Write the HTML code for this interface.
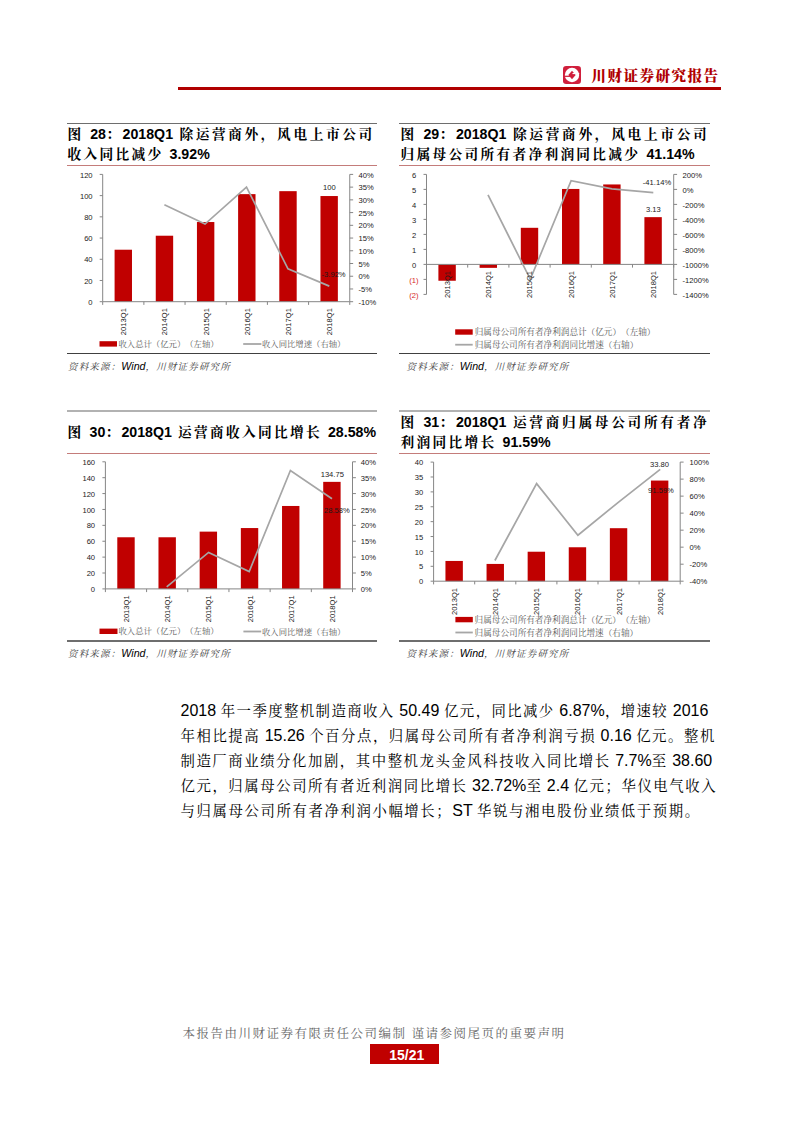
<!DOCTYPE html>
<html lang="zh-CN">
<head>
<meta charset="utf-8">
<title>川财证券研究报告</title>
<style>
html,body{margin:0;padding:0;background:#fff}
*{text-spacing-trim:space-all}
svg text{text-spacing-trim:space-all}
body{width:793px;height:1122px;position:relative;overflow:hidden;font-family:"Liberation Sans", "Noto Serif CJK SC", serif;color:#000}
.abs{position:absolute}
.hl{position:absolute;height:0}
.ttl{position:absolute;font-family:"Liberation Sans", "Noto Serif CJK SC", serif;font-weight:700;font-size:13.7px;letter-spacing:2.3px;line-height:20px;white-space:nowrap;color:#000}
.ttl .j{text-align:justify;text-align-last:justify}
.l{letter-spacing:0;line-height:0;font-family:"Liberation Sans", sans-serif}
.ttl .l{font-size:14.2px}
.src{position:absolute;font-family:"Liberation Sans", "Noto Serif CJK SC", serif;font-style:italic;font-size:9.5px;letter-spacing:1.17px;line-height:14px;color:#3c3c3c;white-space:nowrap}
.src .w{color:#000;font-family:"Liberation Sans", sans-serif;font-size:10.67px;letter-spacing:0}
.body{position:absolute;left:180.5px;top:698.5px;width:537.2px;font-family:"Liberation Sans", "Noto Serif CJK SC", serif;font-size:14.4px;letter-spacing:1.6px;line-height:25.08px;color:#000}
.body .l{font-size:16px}
.body div{text-align:justify;text-align-last:justify;white-space:nowrap;height:25.08px}
.body div.last{text-align-last:left}
.ft{position:absolute;left:182.5px;top:1025px;font-family:"Liberation Sans", "Noto Serif CJK SC", serif;font-size:12.5px;letter-spacing:1.5px;line-height:18px;color:#666;white-space:pre}
.pg{position:absolute;left:370px;top:1044px;width:68.5px;height:20.3px;background:#c00000;color:#fff;font:700 14px/23.2px "Liberation Sans", sans-serif;text-align:center;padding-left:5px;box-sizing:border-box;overflow:hidden}
.hd{position:absolute;left:591.6px;top:66.2px;font-family:"Liberation Sans", "Noto Serif CJK SC", serif;font-weight:900;font-size:14.6px;line-height:20px;letter-spacing:1.4px;color:#b00000;white-space:nowrap}
</style>
</head>
<body>
<!-- header -->
<div class="abs" style="left:178px;top:86.9px;width:543px;height:2.8px;background:#b00000"></div>
<svg class="abs" style="left:563px;top:66px" width="18" height="18" viewBox="0 0 18 18">
<rect x="0" y="0" width="18" height="18" rx="3.2" fill="#d01f3c"/>
<circle cx="9" cy="9" r="7.2" fill="#fff"/>
<path d="M9 4.7L12.7 8.9L9 13.2L5.3 8.9Z" fill="#d01f3c"/>
<path d="M9.5 7.55H16.2" stroke="#fff" stroke-width="1.15"/>
<path d="M1.6 10.3H9.8" stroke="#d01f3c" stroke-width="1.25"/>
</svg>
<div class="hd">川财证券研究报告</div>

<!-- panel rules -->
<div class="abs" style="left:67px;top:122.8px;width:310px;height:1px;background:#6e6e6e"></div>
<div class="abs" style="left:399.3px;top:122.8px;width:310.7px;height:1px;background:#6e6e6e"></div>
<div class="abs" style="left:67px;top:164.8px;width:310px;height:1px;background:#c47c7a"></div>
<div class="abs" style="left:399.3px;top:164.8px;width:310.7px;height:1px;background:#c47c7a"></div>
<div class="abs" style="left:67px;top:352.7px;width:310px;height:1.3px;background:#404040"></div>
<div class="abs" style="left:399.3px;top:352.7px;width:310.7px;height:1.3px;background:#404040"></div>

<div class="abs" style="left:67px;top:409.9px;width:310px;height:2px;background:#b2b2b2"></div>
<div class="abs" style="left:399.3px;top:409.9px;width:310.7px;height:2px;background:#b2b2b2"></div>
<div class="abs" style="left:67px;top:452.9px;width:310px;height:1px;background:#c47c7a"></div>
<div class="abs" style="left:399.3px;top:452.9px;width:310.7px;height:1px;background:#c47c7a"></div>
<div class="abs" style="left:67px;top:640.1px;width:310px;height:1.6px;background:#6e6e6e"></div>
<div class="abs" style="left:399.3px;top:640.1px;width:310.7px;height:1.6px;background:#6e6e6e"></div>

<!-- titles -->
<div class="ttl" style="left:67.5px;top:125.3px;width:307px"><div class="j">图 <span class="l">28</span>：<span class="l">2018Q1</span> 除运营商外，风电上市公司</div><div>收入同比减少 <span class="l">3.92%</span></div></div>
<div class="ttl" style="left:400.5px;top:125.3px;width:308.5px"><div class="j">图 <span class="l">29</span>：<span class="l">2018Q1</span> 除运营商外，风电上市公司</div><div>归属母公司所有者净利润同比减少 <span class="l">41.14%</span></div></div>
<div class="ttl" style="left:67.5px;top:423.2px;width:307px"><div class="j">图 <span class="l">30</span>：<span class="l">2018Q1</span> 运营商收入同比增长 <span class="l">28.58%</span></div></div>
<div class="ttl" style="left:400.5px;top:412.8px;width:308.5px"><div class="j">图 <span class="l">31</span>：<span class="l">2018Q1</span> 运营商归属母公司所有者净</div><div>利润同比增长 <span class="l">91.59%</span></div></div>

<!-- charts -->
<svg class="abs" style="left:0;top:0" width="793" height="1122" viewBox="0 0 793 1122">
<rect x="114.59" y="249.72" width="17.4" height="51.98" fill="#c00000"/>
<rect x="155.76" y="235.72" width="17.4" height="65.98" fill="#c00000"/>
<rect x="196.94" y="222.03" width="17.4" height="79.67" fill="#c00000"/>
<rect x="238.11" y="194.13" width="17.4" height="107.57" fill="#c00000"/>
<rect x="279.29" y="191.16" width="17.4" height="110.54" fill="#c00000"/>
<rect x="320.46" y="196.04" width="17.4" height="105.66" fill="#c00000"/>
<g stroke="#868686" stroke-width="1" fill="none">
<path d="M102.7 174.4V301.7"/>
<path d="M349.75 174.4V301.7"/>
<path d="M102.7 301.7H349.75"/>
<path d="M99.7 301.7H102.7M99.7 280.48H102.7M99.7 259.27H102.7M99.7 238.05H102.7M99.7 216.83H102.7M99.7 195.62H102.7M99.7 174.4H102.7M349.75 301.7H353.15M349.75 288.97H353.15M349.75 276.24H353.15M349.75 263.51H353.15M349.75 250.78H353.15M349.75 238.05H353.15M349.75 225.32H353.15M349.75 212.59H353.15M349.75 199.86H353.15M349.75 187.13H353.15M349.75 174.4H353.15M102.7 301.7V304.9M143.88 301.7V304.9M185.05 301.7V304.9M226.23 301.7V304.9M267.4 301.7V304.9M308.58 301.7V304.9M349.75 301.7V304.9"/>
</g>
<polyline points="164.4,204.7 205,224.1 246.5,187.1 288,268.8 329.3,286.1" fill="none" stroke="#a6a6a6" stroke-width="1.7" stroke-linejoin="miter"/>
<g font-family='"Liberation Sans", sans-serif' font-size="7.6" fill="#1a1a1a">
<text x="92.6" y="304.82" text-anchor="end">0</text>
<text x="92.6" y="283.6" text-anchor="end">20</text>
<text x="92.6" y="262.39" text-anchor="end">40</text>
<text x="92.6" y="241.17" text-anchor="end">60</text>
<text x="92.6" y="219.95" text-anchor="end">80</text>
<text x="92.6" y="198.74" text-anchor="end">100</text>
<text x="92.6" y="177.52" text-anchor="end">120</text>
<text x="358.5" y="304.82">-10%</text>
<text x="358.5" y="292.09">-5%</text>
<text x="358.5" y="279.36">0%</text>
<text x="358.5" y="266.63">5%</text>
<text x="358.5" y="253.9">10%</text>
<text x="358.5" y="241.17">15%</text>
<text x="358.5" y="228.44">20%</text>
<text x="358.5" y="215.71">25%</text>
<text x="358.5" y="202.98">30%</text>
<text x="358.5" y="190.25">35%</text>
<text x="358.5" y="177.52">40%</text>
<text transform="translate(126.26 308.1) rotate(-90)" text-anchor="end">2013Q1</text>
<text transform="translate(167.43 308.1) rotate(-90)" text-anchor="end">2014Q1</text>
<text transform="translate(208.61 308.1) rotate(-90)" text-anchor="end">2015Q1</text>
<text transform="translate(249.78 308.1) rotate(-90)" text-anchor="end">2016Q1</text>
<text transform="translate(290.96 308.1) rotate(-90)" text-anchor="end">2017Q1</text>
<text transform="translate(332.13 308.1) rotate(-90)" text-anchor="end">2018Q1</text>
<text x="329.3" y="190.17" text-anchor="middle">100</text>
<text x="333.6" y="277.07" text-anchor="middle">-3.92%</text>
</g>
<g font-family='"Liberation Serif", "Noto Serif CJK SC", serif' font-size="8.35" fill="#595959">
<rect x="99.5" y="341.2" width="17.5" height="5.4" fill="#c00000"/>
<text x="118.5" y="346.9">收入总计（亿元）（左轴）</text>
<path d="M243.2 344H261.4" stroke="#a6a6a6" stroke-width="1.8"/>
<text x="262" y="347">收入同比增速（右轴）</text>
</g>
<rect x="438.4" y="264.4" width="17.4" height="16.35" fill="#c00000"/>
<rect x="479.6" y="264.4" width="17.4" height="3.45" fill="#c00000"/>
<rect x="520.8" y="227.8" width="17.4" height="36.6" fill="#c00000"/>
<rect x="562" y="188.95" width="17.4" height="75.45" fill="#c00000"/>
<rect x="603.2" y="184.45" width="17.4" height="79.95" fill="#c00000"/>
<rect x="644.4" y="217.15" width="17.4" height="47.25" fill="#c00000"/>
<g stroke="#868686" stroke-width="1" fill="none">
<path d="M426.5 174.4V294.4"/>
<path d="M673.7 174.4V294.4"/>
<path d="M426.5 264.4H673.7"/>
<path d="M423.5 294.4H426.5M423.5 279.4H426.5M423.5 264.4H426.5M423.5 249.4H426.5M423.5 234.4H426.5M423.5 219.4H426.5M423.5 204.4H426.5M423.5 189.4H426.5M423.5 174.4H426.5M673.7 294.4H677.1M673.7 279.4H677.1M673.7 264.4H677.1M673.7 249.4H677.1M673.7 234.4H677.1M673.7 219.4H677.1M673.7 204.4H677.1M673.7 189.4H677.1M673.7 174.4H677.1M426.5 264.4V267.6M467.7 264.4V267.6M508.9 264.4V267.6M550.1 264.4V267.6M591.3 264.4V267.6M632.5 264.4V267.6M673.7 264.4V267.6"/>
</g>
<polyline points="488,194.8 530.3,279.3 571.1,180.6 612,188.9 653.3,192.7" fill="none" stroke="#a6a6a6" stroke-width="1.7" stroke-linejoin="miter"/>
<g font-family='"Liberation Sans", sans-serif' font-size="7.6" fill="#1a1a1a">
<text x="418.5" y="297.52" text-anchor="end" fill="#d62a2a">(2)</text>
<text x="418.5" y="282.52" text-anchor="end" fill="#d62a2a">(1)</text>
<text x="416.2" y="267.52" text-anchor="end">0</text>
<text x="416.2" y="252.52" text-anchor="end">1</text>
<text x="416.2" y="237.52" text-anchor="end">2</text>
<text x="416.2" y="222.52" text-anchor="end">3</text>
<text x="416.2" y="207.52" text-anchor="end">4</text>
<text x="416.2" y="192.52" text-anchor="end">5</text>
<text x="416.2" y="177.52" text-anchor="end">6</text>
<text x="682.5" y="297.52">-1400%</text>
<text x="682.5" y="282.52">-1200%</text>
<text x="682.5" y="267.52">-1000%</text>
<text x="682.5" y="252.52">-800%</text>
<text x="682.5" y="237.52">-600%</text>
<text x="682.5" y="222.52">-400%</text>
<text x="682.5" y="207.52">-200%</text>
<text x="682.5" y="192.52">0%</text>
<text x="682.5" y="177.52">200%</text>
<text transform="translate(450.07 270.9) rotate(-90)" text-anchor="end">2013Q1</text>
<text transform="translate(491.27 270.9) rotate(-90)" text-anchor="end">2014Q1</text>
<text transform="translate(532.47 270.9) rotate(-90)" text-anchor="end">2015Q1</text>
<text transform="translate(573.67 270.9) rotate(-90)" text-anchor="end">2016Q1</text>
<text transform="translate(614.87 270.9) rotate(-90)" text-anchor="end">2017Q1</text>
<text transform="translate(656.07 270.9) rotate(-90)" text-anchor="end">2018Q1</text>
<text x="657" y="184.87" text-anchor="middle">-41.14%</text>
<text x="653.3" y="212.07" text-anchor="middle">3.13</text>
</g>
<g font-family='"Liberation Serif", "Noto Serif CJK SC", serif' font-size="8.62" fill="#595959">
<rect x="455.2" y="329.3" width="17.5" height="5.4" fill="#c00000"/>
<text x="474.7" y="335">归属母公司所有者净利润总计（亿元）（左轴）</text>
<path d="M455.2 344.7H472.7" stroke="#a6a6a6" stroke-width="1.8"/>
<text x="474.7" y="347.7">归属母公司所有者净利润同比增速（右轴）</text>
</g>
<rect x="117.29" y="537.27" width="17.4" height="51.63" fill="#c00000"/>
<rect x="158.48" y="537.27" width="17.4" height="51.63" fill="#c00000"/>
<rect x="199.66" y="531.63" width="17.4" height="57.27" fill="#c00000"/>
<rect x="240.84" y="528.05" width="17.4" height="60.85" fill="#c00000"/>
<rect x="282.03" y="505.97" width="17.4" height="82.93" fill="#c00000"/>
<rect x="323.21" y="481.86" width="17.4" height="107.04" fill="#c00000"/>
<g stroke="#868686" stroke-width="1" fill="none">
<path d="M105.4 461.8V588.9"/>
<path d="M352.5 461.8V588.9"/>
<path d="M105.4 588.9H352.5"/>
<path d="M102.4 588.9H105.4M102.4 573.01H105.4M102.4 557.12H105.4M102.4 541.24H105.4M102.4 525.35H105.4M102.4 509.46H105.4M102.4 493.57H105.4M102.4 477.69H105.4M102.4 461.8H105.4M352.5 588.9H355.9M352.5 573.01H355.9M352.5 557.12H355.9M352.5 541.24H355.9M352.5 525.35H355.9M352.5 509.46H355.9M352.5 493.57H355.9M352.5 477.69H355.9M352.5 461.8H355.9M105.4 588.9V592.1M146.58 588.9V592.1M187.77 588.9V592.1M228.95 588.9V592.1M270.13 588.9V592.1M311.32 588.9V592.1M352.5 588.9V592.1"/>
</g>
<polyline points="166.7,586.8 208.6,552.4 249.2,571.5 290.4,470.5 332,498.7" fill="none" stroke="#a6a6a6" stroke-width="1.7" stroke-linejoin="miter"/>
<g font-family='"Liberation Sans", sans-serif' font-size="7.6" fill="#1a1a1a">
<text x="95.1" y="592.02" text-anchor="end">0</text>
<text x="95.1" y="576.13" text-anchor="end">20</text>
<text x="95.1" y="560.25" text-anchor="end">40</text>
<text x="95.1" y="544.36" text-anchor="end">60</text>
<text x="95.1" y="528.47" text-anchor="end">80</text>
<text x="95.1" y="512.58" text-anchor="end">100</text>
<text x="95.1" y="496.7" text-anchor="end">120</text>
<text x="95.1" y="480.81" text-anchor="end">140</text>
<text x="95.1" y="464.92" text-anchor="end">160</text>
<text x="360.8" y="592.02">0%</text>
<text x="360.8" y="576.13">5%</text>
<text x="360.8" y="560.25">10%</text>
<text x="360.8" y="544.36">15%</text>
<text x="360.8" y="528.47">20%</text>
<text x="360.8" y="512.58">25%</text>
<text x="360.8" y="496.7">30%</text>
<text x="360.8" y="480.81">35%</text>
<text x="360.8" y="464.92">40%</text>
<text transform="translate(128.96 595.3) rotate(-90)" text-anchor="end">2013Q1</text>
<text transform="translate(170.15 595.3) rotate(-90)" text-anchor="end">2014Q1</text>
<text transform="translate(211.33 595.3) rotate(-90)" text-anchor="end">2015Q1</text>
<text transform="translate(252.51 595.3) rotate(-90)" text-anchor="end">2016Q1</text>
<text transform="translate(293.7 595.3) rotate(-90)" text-anchor="end">2017Q1</text>
<text transform="translate(334.88 595.3) rotate(-90)" text-anchor="end">2018Q1</text>
<text x="332.3" y="476.67" text-anchor="middle">134.75</text>
<text x="336.9" y="513.27" text-anchor="middle">28.58%</text>
</g>
<g font-family='"Liberation Serif", "Noto Serif CJK SC", serif' font-size="8.35" fill="#595959">
<rect x="99.5" y="628.6" width="18" height="5.4" fill="#c00000"/>
<text x="118.5" y="634.3">收入总计（亿元）（左轴）</text>
<path d="M243.4 631.5H261.2" stroke="#a6a6a6" stroke-width="1.8"/>
<text x="262" y="634.5">收入同比增速（右轴）</text>
</g>
<rect x="445.45" y="560.95" width="17.4" height="20.25" fill="#c00000"/>
<rect x="486.55" y="563.93" width="17.4" height="17.27" fill="#c00000"/>
<rect x="527.65" y="551.72" width="17.4" height="29.48" fill="#c00000"/>
<rect x="568.75" y="547.26" width="17.4" height="33.94" fill="#c00000"/>
<rect x="609.85" y="528.2" width="17.4" height="53" fill="#c00000"/>
<rect x="650.95" y="480.56" width="17.4" height="100.64" fill="#c00000"/>
<g stroke="#868686" stroke-width="1" fill="none">
<path d="M433.6 462.1V581.2"/>
<path d="M680.2 462.1V581.2"/>
<path d="M433.6 581.2H680.2"/>
<path d="M430.6 581.2H433.6M430.6 566.31H433.6M430.6 551.43H433.6M430.6 536.54H433.6M430.6 521.65H433.6M430.6 506.76H433.6M430.6 491.88H433.6M430.6 476.99H433.6M430.6 462.1H433.6M680.2 581.2H683.6M680.2 564.19H683.6M680.2 547.17H683.6M680.2 530.16H683.6M680.2 513.14H683.6M680.2 496.13H683.6M680.2 479.11H683.6M680.2 462.1H683.6M433.6 581.2V584.4M474.7 581.2V584.4M515.8 581.2V584.4M556.9 581.2V584.4M598 581.2V584.4M639.1 581.2V584.4M680.2 581.2V584.4"/>
</g>
<polyline points="494.9,560.5 536.6,483.6 577.9,535.2 618.9,501.8 660.2,469.4" fill="none" stroke="#a6a6a6" stroke-width="1.7" stroke-linejoin="miter"/>
<g font-family='"Liberation Sans", sans-serif' font-size="7.6" fill="#1a1a1a">
<text x="423.3" y="584.32" text-anchor="end">0</text>
<text x="423.3" y="569.43" text-anchor="end">5</text>
<text x="423.3" y="554.55" text-anchor="end">10</text>
<text x="423.3" y="539.66" text-anchor="end">15</text>
<text x="423.3" y="524.77" text-anchor="end">20</text>
<text x="423.3" y="509.88" text-anchor="end">25</text>
<text x="423.3" y="495" text-anchor="end">30</text>
<text x="423.3" y="480.11" text-anchor="end">35</text>
<text x="423.3" y="465.22" text-anchor="end">40</text>
<text x="689.6" y="584.32">-40%</text>
<text x="689.6" y="567.31">-20%</text>
<text x="689.6" y="550.29">0%</text>
<text x="689.6" y="533.28">20%</text>
<text x="689.6" y="516.26">40%</text>
<text x="689.6" y="499.25">60%</text>
<text x="689.6" y="482.23">80%</text>
<text x="689.6" y="465.22">100%</text>
<text transform="translate(457.12 587.9) rotate(-90)" text-anchor="end">2013Q1</text>
<text transform="translate(498.22 587.9) rotate(-90)" text-anchor="end">2014Q1</text>
<text transform="translate(539.32 587.9) rotate(-90)" text-anchor="end">2015Q1</text>
<text transform="translate(580.42 587.9) rotate(-90)" text-anchor="end">2016Q1</text>
<text transform="translate(621.52 587.9) rotate(-90)" text-anchor="end">2017Q1</text>
<text transform="translate(662.62 587.9) rotate(-90)" text-anchor="end">2018Q1</text>
<text x="659.5" y="467.17" text-anchor="middle">33.80</text>
<text x="661" y="492.87" text-anchor="middle">91.59%</text>
</g>
<g font-family='"Liberation Serif", "Noto Serif CJK SC", serif' font-size="8.62" fill="#595959">
<rect x="455.4" y="616.9" width="17.4" height="5.4" fill="#c00000"/>
<text x="474.6" y="622.6">归属母公司所有者净利润总计（亿元）（左轴）</text>
<path d="M455.4 632.5H472.8" stroke="#a6a6a6" stroke-width="1.8"/>
<text x="474.6" y="635.5">归属母公司所有者净利润同比增速（右轴）</text>
</g>
</svg>

<!-- sources -->
<div class="src" style="left:68px;top:358.6px">资料来源：<span class="w">Wind</span>，川财证券研究所</div>
<div class="src" style="left:406.5px;top:358.6px">资料来源：<span class="w">Wind</span>，川财证券研究所</div>
<div class="src" style="left:68px;top:646.4px">资料来源：<span class="w">Wind</span>，川财证券研究所</div>
<div class="src" style="left:406.5px;top:646.4px">资料来源：<span class="w">Wind</span>，川财证券研究所</div>

<!-- body -->
<div class="body">
<div style="width:527.9px;letter-spacing:1.2px"><span class="l">2018 </span>年一季度整机制造商收入<span class="l"> 50.49 </span>亿元，同比减少<span class="l"> 6.87%</span>，增速较<span class="l"> 2016</span></div>
<div style="width:534.8px;letter-spacing:1.55px">年相比提高<span class="l"> 15.26 </span>个百分点，归属母公司所有者净利润亏损<span class="l"> 0.16 </span>亿元。整机</div>
<div style="width:531.7px;letter-spacing:1.5px">制造厂商业绩分化加剧，其中整机龙头金风科技收入同比增长<span class="l"> 7.7%</span>至<span class="l"> 38.60</span></div>
<div style="width:536.6px;letter-spacing:1.5px">亿元，归属母公司所有者近利润同比增长<span class="l"> 32.72%</span>至<span class="l"> 2.4 </span>亿元；华仪电气收入</div>
<div class="last" style="">与归属母公司所有者净利润小幅增长；<span class="l">ST </span>华锐与湘电股份业绩低于预期。</div>
</div>

<!-- footer -->
<div class="ft">本报告由川财证券有限责任公司编制 谨请参阅尾页的重要声明</div>
<div class="pg">15/21</div>
</body>
</html>
